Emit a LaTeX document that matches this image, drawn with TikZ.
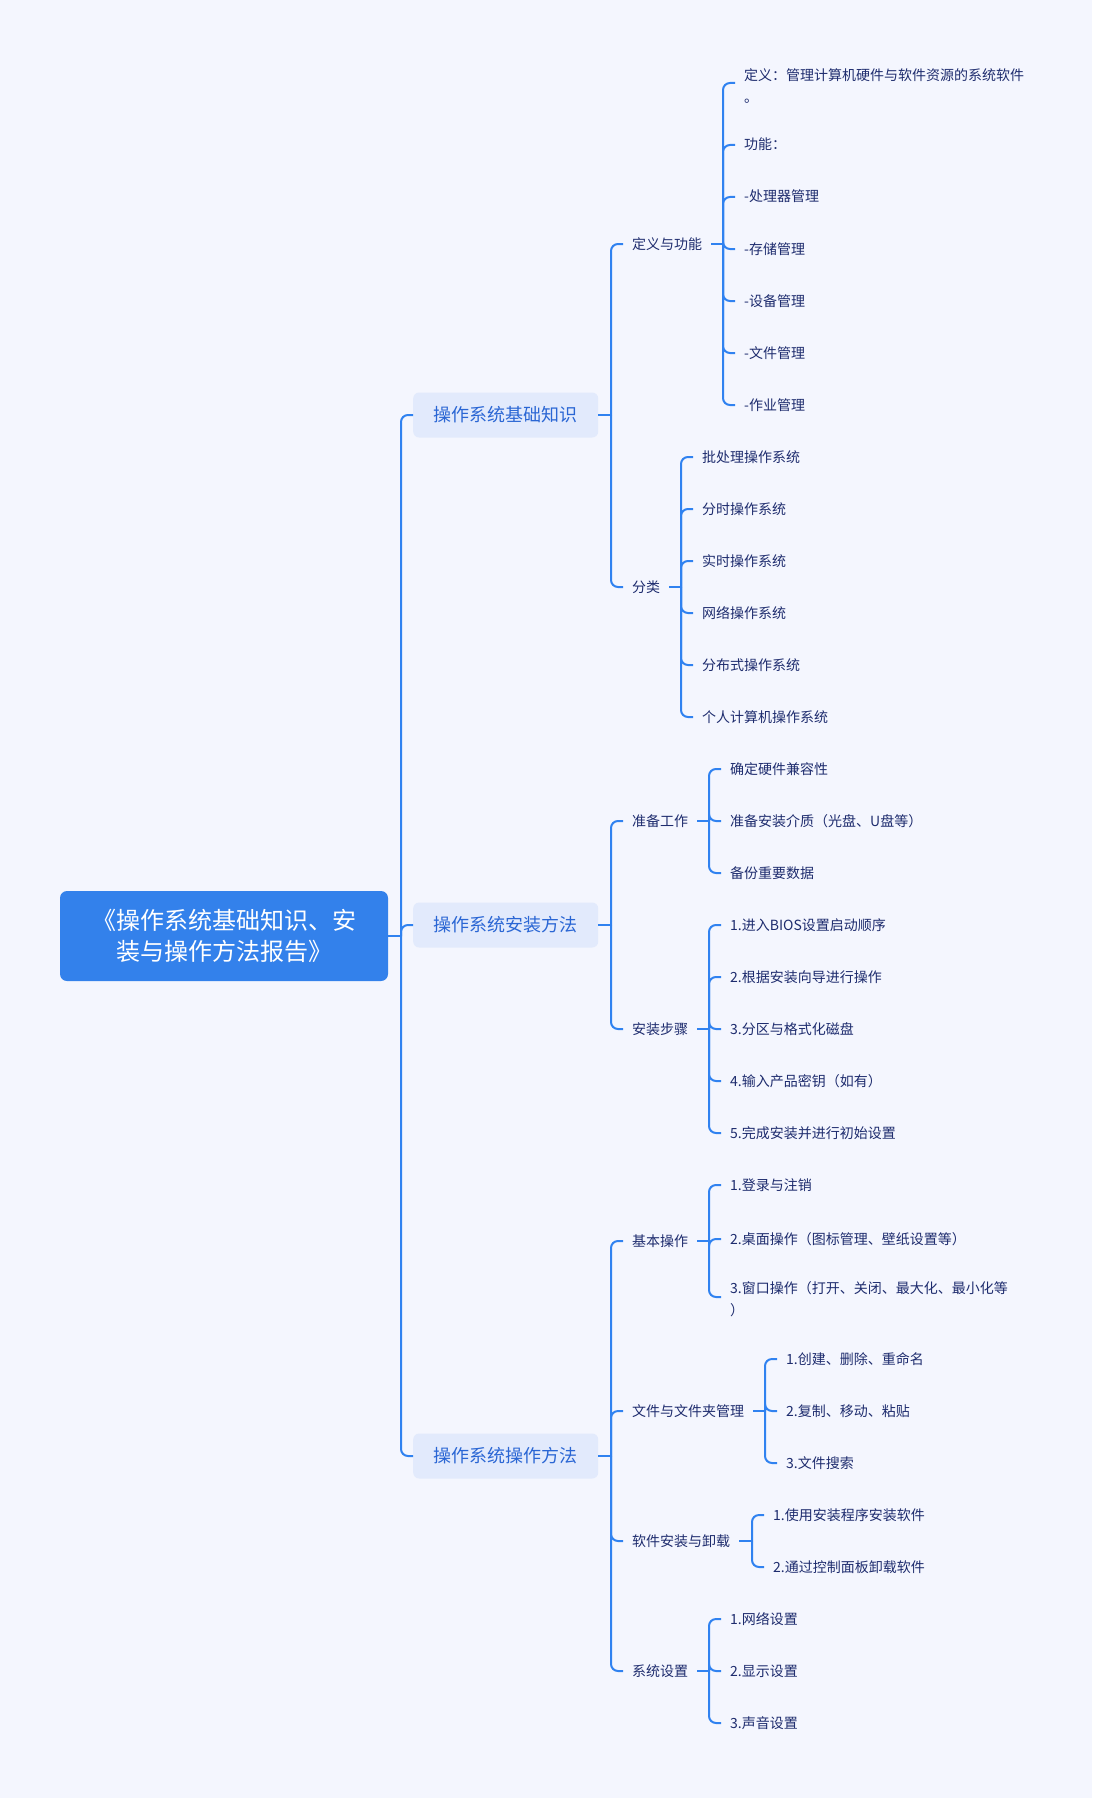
\documentclass[tikz,border=0pt]{standalone}
\usepackage{fontspec}
\setmainfont{Noto Sans CJK SC}
\definecolor{bgcol}{HTML}{F4F6FE}
\definecolor{lineblue}{HTML}{3082F0}
\definecolor{rootfill}{HTML}{3381EB}
\definecolor{lonefill}{HTML}{E2EAFC}
\definecolor{lonetext}{HTML}{2A66D4}
\definecolor{leaftext}{HTML}{1E2C6E}
\begin{document}
\begin{tikzpicture}[x=1pt,y=-1pt,
  conn/.style={draw=lineblue, line width=2pt, rounded corners=7pt},
  leaf/.style={anchor=west, inner xsep=9pt, inner ysep=2pt, font=\fontsize{14}{22}\selectfont, text=leaftext, text height=12pt, text depth=2pt},
  leaftwo/.style={anchor=west, inner xsep=9pt, inner ysep=2pt, font=\fontsize{14}{22}\selectfont, text=leaftext, align=left},
  topic/.style={fill=lonefill, rounded corners=6pt, minimum width=185pt, minimum height=45pt, inner sep=0pt, anchor=west, text=lonetext, font=\fontsize{18}{22}\selectfont},
  rootbox/.style={fill=rootfill, rounded corners=7pt, minimum width=328pt, minimum height=90pt, inner sep=0pt, align=center, text=white, font=\fontsize{24}{31}\selectfont}]
\fill[bgcol] (0,0) rectangle (1092,1798);
\useasboundingbox (0,0) rectangle (1092,1798);

% root and topics
\node[rootbox] (root) at (224,936) {《操作系统基础知识、安\\装与操作方法报告》};
\node[topic] (t1) at (413,415) {操作系统基础知识};
\node[topic] (t2) at (413,925) {操作系统安装方法};
\node[topic] (t3) at (413,1456) {操作系统操作方法};

% bar coordinates
\coordinate (b0) at (401,0);
\coordinate (b1) at (611,0);
\coordinate (bdef) at (723,0);
\coordinate (bcls) at (681,0);
\coordinate (bprep) at (709,0);
\coordinate (bstep) at (709,0);
\coordinate (bbase) at (709,0);
\coordinate (bfile) at (765,0);
\coordinate (bsoft) at (752,0);
\coordinate (bsys) at (709,0);

% level 2
\node[leaf] (a1) at (623,244) {定义与功能};
\node[leaf] (a2) at (623,587) {分类};
\node[leaf] (a3) at (623,821) {准备工作};
\node[leaf] (a4) at (623,1029) {安装步骤};
\node[leaf] (a5) at (623,1241) {基本操作};
\node[leaf] (a6) at (623,1411) {文件与文件夹管理};
\node[leaf] (a7) at (623,1541) {软件安装与卸载};
\node[leaf] (a8) at (623,1671) {系统设置};

% leaves: definition and functions
\node[leaftwo] (d1) at (735,86) {定义：管理计算机硬件与软件资源的系统软件\\。};
\node[leaf] (d2) at (735,145) {功能：};
\node[leaf] (d3) at (735,197) {-处理器管理};
\node[leaf] (d4) at (735,249) {-存储管理};
\node[leaf] (d5) at (735,301) {-设备管理};
\node[leaf] (d6) at (735,353) {-文件管理};
\node[leaf] (d7) at (735,405) {-作业管理};

% leaves: classification
\node[leaf] (k1) at (693,457) {批处理操作系统};
\node[leaf] (k2) at (693,509) {分时操作系统};
\node[leaf] (k3) at (693,561) {实时操作系统};
\node[leaf] (k4) at (693,613) {网络操作系统};
\node[leaf] (k5) at (693,665) {分布式操作系统};
\node[leaf] (k6) at (693,717) {个人计算机操作系统};

% leaves: preparation
\node[leaf] (p1) at (721,769) {确定硬件兼容性};
\node[leaf] (p2) at (721,821) {准备安装介质（光盘、U盘等）};
\node[leaf] (p3) at (721,873) {备份重要数据};

% leaves: install steps
\node[leaf] (s1) at (721,925) {1.进入BIOS设置启动顺序};
\node[leaf] (s2) at (721,977) {2.根据安装向导进行操作};
\node[leaf] (s3) at (721,1029) {3.分区与格式化磁盘};
\node[leaf] (s4) at (721,1081) {4.输入产品密钥（如有）};
\node[leaf] (s5) at (721,1133) {5.完成安装并进行初始设置};

% leaves: basic operations
\node[leaf] (o1) at (721,1185) {1.登录与注销};
\node[leaf] (o2) at (721,1239) {2.桌面操作（图标管理、壁纸设置等）};
\node[leaftwo] (o3) at (721,1299) {3.窗口操作（打开、关闭、最大化、最小化等\\）};

% leaves: files
\node[leaf] (f1) at (777,1359) {1.创建、删除、重命名};
\node[leaf] (f2) at (777,1411) {2.复制、移动、粘贴};
\node[leaf] (f3) at (777,1463) {3.文件搜索};

% leaves: software
\node[leaf] (w1) at (764,1515) {1.使用安装程序安装软件};
\node[leaf] (w2) at (764,1567) {2.通过控制面板卸载软件};

% leaves: system settings
\node[leaf] (y1) at (721,1619) {1.网络设置};
\node[leaf] (y2) at (721,1671) {2.显示设置};
\node[leaf] (y3) at (721,1723) {3.声音设置};

% connectors: root -> topics
\draw[conn] (root.east) -- (root.east -| b0);
\foreach \n in {t1,t2,t3} {\draw[conn] (root.east -| b0) |- (\n.west);}

% topics -> level 2
\draw[conn] (t1.east) -- (t1.east -| b1);
\foreach \n in {a1,a2} {\draw[conn] (t1.east -| b1) |- (\n.west);}
\draw[conn] (t2.east) -- (t2.east -| b1);
\foreach \n in {a3,a4} {\draw[conn] (t2.east -| b1) |- (\n.west);}
\draw[conn] (t3.east) -- (t3.east -| b1);
\foreach \n in {a5,a6,a7,a8} {\draw[conn] (t3.east -| b1) |- (\n.west);}

% level 2 -> leaves
\draw[conn] (a1.east) -- (a1.east -| bdef);
\draw[conn] (a1.east -| bdef) |- ([yshift=3pt]d1.west);
\foreach \n in {d2,d3,d4,d5,d6,d7} {\draw[conn] (a1.east -| bdef) |- (\n.west);}

\draw[conn] (a2.east) -- (a2.east -| bcls);
\foreach \n in {k1,k2,k3,k4,k5,k6} {\draw[conn] (a2.east -| bcls) |- (\n.west);}

\draw[conn] (a3.east) -- (a3.east -| bprep);
\foreach \n in {p1,p2,p3} {\draw[conn] (a3.east -| bprep) |- (\n.west);}

\draw[conn] (a4.east) -- (a4.east -| bstep);
\foreach \n in {s1,s2,s3,s4,s5} {\draw[conn] (a4.east -| bstep) |- (\n.west);}

\draw[conn] (a5.east) -- (a5.east -| bbase);
\foreach \n in {o1,o2} {\draw[conn] (a5.east -| bbase) |- (\n.west);}
\draw[conn] (a5.east -| bbase) |- ([yshift=2pt]o3.west);

\draw[conn] (a6.east) -- (a6.east -| bfile);
\foreach \n in {f1,f2,f3} {\draw[conn] (a6.east -| bfile) |- (\n.west);}

\draw[conn] (a7.east) -- (a7.east -| bsoft);
\foreach \n in {w1,w2} {\draw[conn] (a7.east -| bsoft) |- (\n.west);}

\draw[conn] (a8.east) -- (a8.east -| bsys);
\foreach \n in {y1,y2,y3} {\draw[conn] (a8.east -| bsys) |- (\n.west);}
\end{tikzpicture}
\end{document}
